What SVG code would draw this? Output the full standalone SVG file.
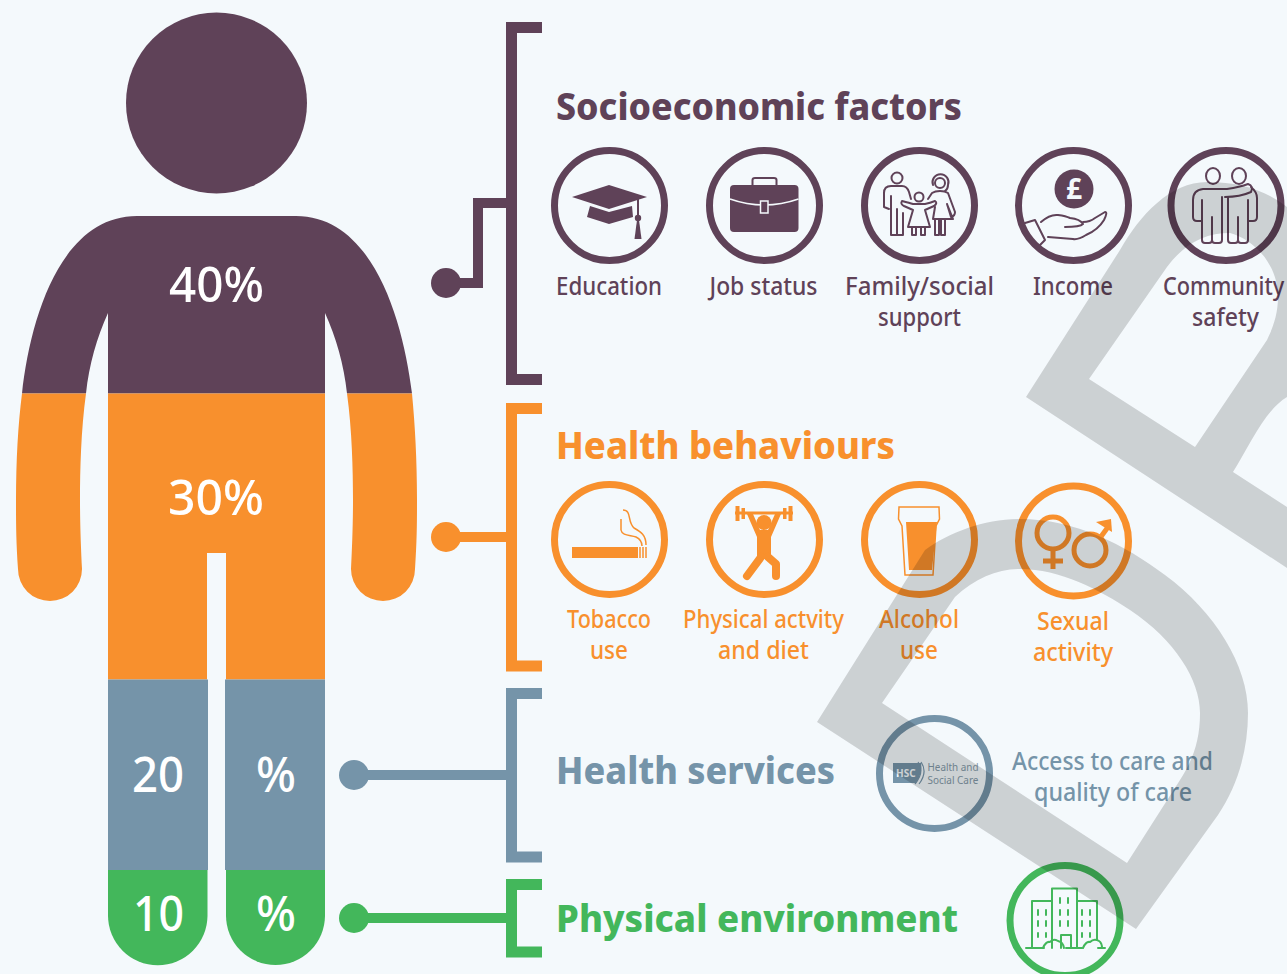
<svg xmlns="http://www.w3.org/2000/svg" width="1287" height="974" viewBox="0 0 1287 974">
<style>
text{font-family:"Noto Sans","Open Sans","Liberation Sans",sans-serif}
.h{font-size:37px;font-weight:800}
.l{font-size:25px;font-weight:500;text-anchor:middle}
.p{font-size:49px;fill:#fff;font-weight:500}
.pu{fill:#5f4258}.or{fill:#f8902d}.bl{fill:#7594a9}.gr{fill:#43b75b}
.ring{fill:none;stroke-width:7}
.ln{fill:none;stroke-width:2;stroke-linecap:round;stroke-linejoin:round}
.con{fill:none;stroke-width:10}
.br{fill:none;stroke-width:11}
</style>
<rect width="1287" height="974" fill="#f4f9fc"/>

<g id="person">
<circle class="pu" cx="216.500" cy="103" r="90.500"/>
<path class="pu" d="M22 393.500C30 320 60 216 137 216H296C373 216 403 320 412 393.500H347C344 365 336 337 325 313V393.500H108V313C97 337 89 365 86 393.500Z"/>
<path class="or" d="M22 393.500H86C81 430 80 470 80 500C80 525 81 550 82 569A32 32 0 0 1 18 569C16 540 16 520 16 500C16 460 18 425 22 393.500Z"/>
<path class="or" d="M347 393.500H412C415 425 417 460 417 500C417 520 417 540 415 569A32 32 0 0 1 351 569C352 550 353 525 353 500C353 470 352 430 347 393.500Z"/>
<path class="or" d="M108 393.500H325V679.500H226V553H207V679.500H108Z"/>
<rect class="bl" x="108" y="679.500" width="100" height="190.500"/>
<rect class="bl" x="225" y="679.500" width="100" height="190.500"/>
<path class="gr" d="M108 870H207.500V915.500A49.750 49.750 0 0 1 108 915.500Z"/>
<path class="gr" d="M226 870H325V915.500A49.500 49.500 0 0 1 226 915.500Z"/>
<text class="p" x="169" y="302" textLength="95" lengthAdjust="spacingAndGlyphs">40%</text>
<text class="p" x="168" y="515" textLength="96" lengthAdjust="spacingAndGlyphs">30%</text>
<text class="p" x="132" y="792" textLength="52" lengthAdjust="spacingAndGlyphs">20</text>
<text class="p" x="256" y="792" textLength="40" lengthAdjust="spacingAndGlyphs">%</text>
<text class="p" x="133" y="931" textLength="51" lengthAdjust="spacingAndGlyphs">10</text>
<text class="p" x="256" y="931" textLength="40" lengthAdjust="spacingAndGlyphs">%</text>
</g>

<g id="connectors">
<path class="br" stroke="#5f4258" d="M542 27.500H511.500V379.500H542"/>
<path class="con" stroke="#5f4258" d="M446 283H478V203H507"/><circle class="pu" cx="446" cy="283" r="15"/>
<path class="br" stroke="#f8902d" d="M542 408.500H511.500V666H542"/>
<path class="con" stroke="#f8902d" d="M446 537H507"/><circle class="or" cx="446" cy="537" r="15"/>
<path class="br" stroke="#7594a9" d="M542 693.500H511.500V857H542"/>
<path class="con" stroke="#7594a9" d="M354 775H507"/><circle class="bl" cx="354" cy="775" r="15"/>
<path class="br" stroke="#43b75b" d="M542 884.500H511.500V952H542"/>
<path class="con" stroke="#43b75b" d="M354 918H507"/><circle class="gr" cx="354" cy="918" r="15"/>
</g>

<g id="heading-socioeconomic"><text class="h pu" x="556" y="120" textLength="406" lengthAdjust="spacingAndGlyphs">Socioeconomic factors</text></g>
<g id="heading-behaviours"><text class="h or" x="556" y="459" textLength="339" lengthAdjust="spacingAndGlyphs">Health behaviours</text></g>
<g id="heading-services"><text class="h bl" x="556" y="784" textLength="279" lengthAdjust="spacingAndGlyphs">Health services</text></g>
<g id="heading-environment"><text class="h gr" x="556" y="932" textLength="402" lengthAdjust="spacingAndGlyphs">Physical environment</text></g>

<g id="education">
<circle class="ring" stroke="#5f4258" cx="609.500" cy="205.500" r="55"/>
<path class="pu" d="M572 197L609 185L647 197L609 209Z"/>
<path class="pu" d="M590 206L609 212L632 206L633 217L609 224L587 217Z"/>
<path class="ln" stroke="#5f4258" d="M638 198V220"/><circle class="pu" cx="638" cy="218" r="3.200"/>
<path class="pu" d="M637 220H639L641.500 239H634.500Z"/>
<text class="l pu" x="609" y="295" textLength="106" lengthAdjust="spacingAndGlyphs">Education</text>
</g>
<g id="job-status">
<circle class="ring" stroke="#5f4258" cx="764.500" cy="205.500" r="55"/>
<rect class="pu" x="730" y="185" width="68.500" height="47" rx="4"/>
<path class="ln" stroke="#5f4258" stroke-width="3" d="M752.500 185V180Q752.500 178 755 178H774Q776.500 178 776.500 180V185"/>
<path fill="none" stroke="#f4f9fc" stroke-width="1.500" d="M730 199Q764 211 798.500 199"/>
<rect x="760.500" y="201" width="7.500" height="12" fill="#5f4258" stroke="#f4f9fc" stroke-width="1.500"/>
<text class="l pu" x="763.500" y="295" textLength="108" lengthAdjust="spacingAndGlyphs">Job status</text>
</g>
<g id="family-social-support">
<circle class="ring" stroke="#5f4258" cx="919.500" cy="205.500" r="55"/>
<g class="ln" stroke="#5f4258">
<circle cx="897" cy="178" r="5.500"/>
<path d="M891 196V235H897V209M897 235H903V213M884 207V193Q884 186 891 186H902Q907 186 909 192L911 199M884 207L889 209"/>
<circle cx="940" cy="183" r="5"/><path d="M933 185A8 8 0 1 1 948 185Q948 189 945 191"/>
<path d="M928 199L932 193Q935 191 940 191Q945 191 948 193L955 212Q955 216 951 217L947 204L953 219H933L935 207M935 219V235H939V219M941 219V235H945V219"/>
<circle cx="919" cy="197" r="4.500"/>
<path d="M902 201Q910 203 913 204H925Q930 203 935 201Q938 203 934 206L925 210L930 227H908L913 210L904 206Q900 204 902 201ZM912 227V235H916V227M921 227V235H925V227"/>
</g>
<text class="l pu" x="919.500" y="295" textLength="149" lengthAdjust="spacingAndGlyphs">Family/social</text>
<text class="l pu" x="919.500" y="326" textLength="83" lengthAdjust="spacingAndGlyphs">support</text>
</g>
<g id="income">
<circle class="ring" stroke="#5f4258" cx="1073.500" cy="205.500" r="55"/>
<circle class="pu" cx="1074" cy="189" r="19.500"/>
<text x="1074" y="199" font-size="28" font-weight="700" fill="#f4f9fc" text-anchor="middle">£</text>
<g class="ln" stroke="#5f4258">
<path d="M1025 223L1035 220L1045 240L1040 245"/>
<path d="M1041 222Q1050 214 1058 215Q1066 216 1070 218Q1080 219 1083 224Q1080 227 1065 227"/>
<path d="M1083 222Q1090 222 1095 218L1105 212Q1108 212 1104 220Q1098 230 1086 235Q1078 240 1073 239L1048 237"/>
</g>
<text class="l pu" x="1073" y="295" textLength="80" lengthAdjust="spacingAndGlyphs">Income</text>
</g>
<g id="community-safety">
<circle class="ring" stroke="#5f4258" cx="1226" cy="205.500" r="55"/>
<g class="ln" stroke="#5f4258">
<ellipse cx="1213" cy="176" rx="7" ry="8"/><ellipse cx="1239" cy="176" rx="7" ry="8"/>
<path d="M1222 197V240Q1222 243 1219 243H1215Q1212 243 1212 240V217M1212 240Q1212 243 1209 243H1205Q1202 243 1202 240V200M1202 221H1197Q1193 221 1193 217V200Q1193 190 1203 189H1227Q1240 187 1248 184Q1254 186 1251 192Q1240 197 1225 197"/>
<path d="M1228 197V240Q1228 243 1231 243H1235Q1238 243 1238 240V217M1238 240Q1238 243 1241 243H1245Q1248 243 1248 240V200M1248 221H1253Q1257 221 1257 217V198Q1257 192 1251 187"/>
</g>
<text class="pu" transform="translate(1163 295) scale(.87 1)" font-size="25" font-weight="500">Community</text>
<text class="l pu" x="1225.500" y="326" textLength="67" lengthAdjust="spacingAndGlyphs">safety</text>
</g>

<g id="tobacco-use">
<circle class="ring" stroke="#f8902d" cx="609.500" cy="539.500" r="55"/>
<rect class="or" x="572" y="547" width="66" height="11"/>
<path fill="none" stroke="#f8902d" stroke-width="1.500" d="M640 547V558M643 547V558M646 547V558"/>
<path fill="none" stroke="#f8902d" stroke-width="1.500" d="M623 510C632 510 627 522 634 528C641 532 646 535 646 545M621 519V530C622 536 630 535 636 537C640 539 642 541 642 546"/>
<text class="l or" x="609" y="628" textLength="84" lengthAdjust="spacingAndGlyphs">Tobacco</text>
<text class="l or" x="609" y="659" textLength="38" lengthAdjust="spacingAndGlyphs">use</text>
</g>
<g id="physical-activity">
<circle class="ring" stroke="#f8902d" cx="764.500" cy="539.500" r="55"/>
<path fill="none" stroke="#f8902d" stroke-width="3" d="M735 513H793"/>
<path class="or" d="M735.500 506H739.500V521H735.500ZM741.500 508H745V519H741.500ZM783 508H786.500V519H783ZM788.500 506H792.500V521H788.500Z"/>
<circle class="or" cx="764" cy="522.500" r="7.500"/>
<path class="or" d="M757 558V537L747 514H753L760 530H768L775 514H781L771 537V558Z"/>
<path fill="none" stroke="#f8902d" stroke-width="8" stroke-linecap="round" stroke-linejoin="round" d="M761 557L747 576M768 557L776 564V576"/>
<text class="l or" x="763.500" y="628" textLength="161" lengthAdjust="spacingAndGlyphs">Physical actvity</text>
<text class="l or" x="763.500" y="659" textLength="91" lengthAdjust="spacingAndGlyphs">and diet</text>
</g>
<g id="alcohol-use">
<circle class="ring" stroke="#f8902d" cx="919.500" cy="539.500" r="55"/>
<path fill="none" stroke="#f8902d" stroke-width="1.500" d="M899 507H939L939.500 519Q938 522 936 526L933 575H905L902 526Q900 522 898.500 519Z"/>
<path class="or" d="M906 522H937L932 570H909Z"/>
<text class="l or" x="919" y="628" textLength="80" lengthAdjust="spacingAndGlyphs">Alcohol</text>
<text class="l or" x="919" y="659" textLength="38" lengthAdjust="spacingAndGlyphs">use</text>
</g>
<g id="sexual-activity">
<circle class="ring" stroke="#f8902d" cx="1073.500" cy="541" r="55"/>
<g fill="none" stroke="#f8902d" stroke-width="5">
<circle cx="1053" cy="533" r="16"/><path d="M1053 549V569M1043 561H1063"/>
<circle cx="1090" cy="550" r="16"/><path d="M1100 538L1108 527"/>
</g>
<path class="or" d="M1096 522L1111 519L1112 532Z"/>
<text class="l or" x="1073" y="630" textLength="72" lengthAdjust="spacingAndGlyphs">Sexual</text>
<text class="l or" x="1073" y="661" textLength="80" lengthAdjust="spacingAndGlyphs">activity</text>
</g>

<g id="health-services-access">
<circle class="ring" stroke="#7594a9" cx="934.500" cy="773.500" r="55"/>
<path class="bl" d="M893 763H921Q923 772 916 783H893Z"/>
<path fill="none" stroke="#7594a9" stroke-width="1.200" d="M918 762Q925 772 915 784M921 762Q928 772 919 784"/>
<text x="896" y="777" font-size="10" font-weight="700" fill="#f4f9fc">HSC</text>
<text x="927.500" y="771" font-size="10.500" fill="#8399a8" textLength="51" lengthAdjust="spacingAndGlyphs">Health and</text>
<text x="927.500" y="783.500" font-size="10.500" fill="#8399a8" textLength="51" lengthAdjust="spacingAndGlyphs">Social Care</text>
<text class="l bl" x="1112.500" y="770" textLength="201" lengthAdjust="spacingAndGlyphs">Access to care and</text>
<text class="l bl" x="1113" y="801" textLength="158" lengthAdjust="spacingAndGlyphs">quality of care</text>
</g>

<g id="physical-environment-icon">
<circle class="ring" stroke="#43b75b" cx="1065" cy="920.500" r="55"/>
<g class="ln" stroke="#43b75b">
<path d="M1052 948V888.500H1077V948M1052 901H1032V947M1077 901H1097V940M1026 948H1044M1066 948H1082M1098 948H1105M1061 948V935H1071V948"/>
<path d="M1043 948Q1046 941 1050 942Q1053 938 1058 941Q1063 942 1064 948M1083 948Q1086 941 1090 942Q1094 938 1099 941Q1102 943 1102 948"/>
<path d="M1038 910V915M1046 910V915M1038 921V926M1046 921V926M1038 933V937M1046 933V937M1060 898V903M1068 898V903M1060 910V915M1068 910V915M1060 921V926M1068 921V926M1082 910V915M1090 910V915M1082 921V926M1090 921V926M1082 933V937M1090 933V937"/>
</g>
</g>

<g id="watermark" fill="#000" fill-opacity="0.16" fill-rule="evenodd">
<path d="M817 722L925 550C950 532 985 519 1020 519C1075 519 1125 545 1165 575C1215 612 1248 665 1248 713C1248 750 1238 785 1218 815L1136 929Z M882 703L955 597C975 578 998 569 1020 569C1060 569 1100 590 1130 610C1175 640 1200 680 1200 713C1200 740 1193 760 1180 780L1127 863Z"/>
<path d="M1026 397L1120 250C1140 215 1170 182 1207 182C1240 182 1265 190 1287 207V397C1265 410 1250 445 1233 472L1287 507V568Z M1089 379L1167 267C1185 243 1205 233 1230 233C1255 240 1278 265 1278 297C1278 315 1272 330 1267 340L1195 447Z"/>
</g>
</svg>
